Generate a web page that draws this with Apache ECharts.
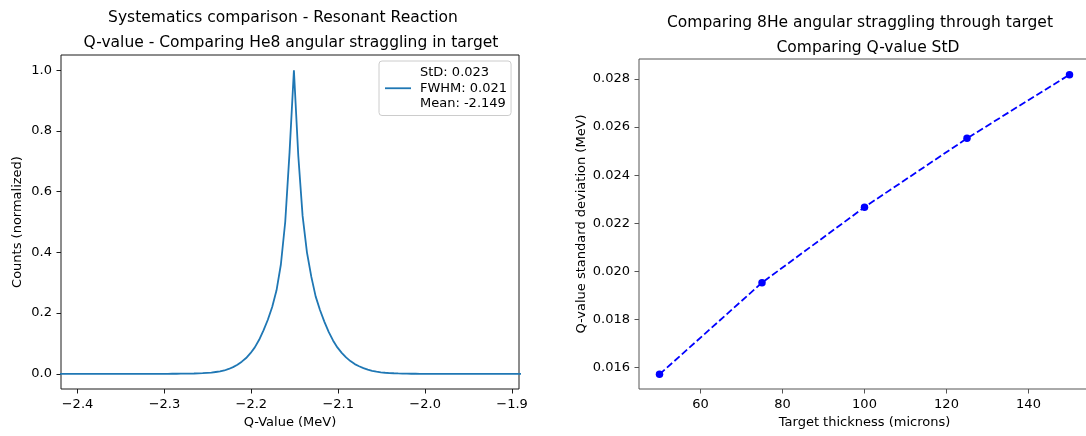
<!DOCTYPE html>
<html>
<head>
<meta charset="utf-8">
<script src="https://cdn.jsdelivr.net/npm/echarts@6/dist/echarts.min.js"></script>
<style>
html,body{margin:0;padding:0;background:#fff;}
#chart{width:1086px;height:436px;}
</style>
</head>
<body>
<div id="chart"></div>
<script>
// ---- Left panel data: Q-value histogram (normalized counts) ----
const qValues = [
 -2.426,-2.421,-2.416,-2.411,-2.406,-2.401,
 -2.396,-2.391,-2.386,-2.381,-2.376,-2.371,-2.366,-2.361,-2.356,-2.351,
 -2.346,-2.341,-2.336,-2.331,-2.326,-2.321,-2.316,-2.311,-2.306,-2.301,
 -2.296,-2.291,-2.286,-2.281,-2.276,-2.271,-2.266,-2.261,-2.256,-2.251,
 -2.246,-2.241,-2.236,-2.231,-2.226,-2.221,-2.216,-2.211,-2.206,-2.201,
 -2.196,-2.191,-2.186,-2.181,-2.176,-2.171,-2.166,-2.161,-2.156,-2.151,
 -2.146,-2.141,-2.136,-2.131,-2.126,-2.121,-2.116,-2.111,-2.106,-2.101,
 -2.096,-2.091,-2.086,-2.081,-2.076,-2.071,-2.066,-2.061,-2.056,-2.051,
 -2.046,-2.041,-2.036,-2.031,-2.026,-2.021,-2.016,-2.011,-2.006,-2.001,
 -1.996,-1.991,-1.986,-1.981,-1.976,-1.971,-1.966,-1.961,-1.956,-1.951,
 -1.946,-1.941,-1.936,-1.931,-1.926,-1.921,-1.916,-1.911,-1.906,-1.901,
 -1.896,-1.891,-1.886
];
const counts = [
 0,0,0,0,0,0,
 0,0,0,0,0,0,0,0,0,0,
 0,0,0,0,0,0,0,0,0,0,
 0.0001,0.0002,0.0003,0.0004,0.0005,0.0008,0.001,0.0015,0.002,0.003,
 0.004,0.006,0.008,0.011,0.016,0.022,0.030,0.040,0.052,0.068,
 0.087,0.112,0.143,0.178,0.22,0.275,0.36,0.50,0.73,1.0,
 0.72,0.52,0.40,0.32,0.255,0.21,0.172,0.138,0.11,0.087,
 0.069,0.054,0.042,0.032,0.025,0.019,0.014,0.010,0.007,0.005,
 0.0035,0.0025,0.0018,0.0012,0.0008,0.0005,0.0003,0.0002,0.0001,0,
 0,0,0,0,0,0,0,0,0,0,
 0,0,0,0,0,0,0,0,0,0,
 0,0,0
];
const leftXTicks = [-2.4,-2.3,-2.2,-2.1,-2.0,-1.9];
const leftYTicks = [0.0,0.2,0.4,0.6,0.8,1.0];
const legendLabel = 'StD: 0.023\nFWHM: 0.021\nMean: -2.149';

// ---- Right panel data: Q-value StD vs target thickness ----
const thickness = [50,75,100,125,150];
const qStd = [0.01572,0.01953,0.02267,0.02553,0.02818];
const rightXTicks = [60,80,100,120,140];
const rightYTicks = [0.016,0.018,0.020,0.022,0.024,0.026,0.028];

const FONT = 'DejaVu Sans';
const TICK_FS = 13;
const TITLE_FONT = '15.5px "DejaVu Sans"';
const minus = s => s.replace('-', '\u2212');

const chart = echarts.init(document.getElementById('chart'), null, {renderer:'canvas'});

function axisCommon(ticks, fmt, color){
  return {
    axisLine:{show:false, onZero:false},
    splitLine:{show:false},
    axisTick:{show:true, length:4.5, customValues:ticks, lineStyle:{color:color, width:1}},
    axisLabel:{customValues:ticks, formatter:fmt, fontSize:TICK_FS, color:'#000', fontFamily:FONT, margin:9},
    nameLocation:'middle',
    nameTextStyle:{fontSize:TICK_FS, color:'#000', fontFamily:FONT}
  };
}

const option = {
  animation:false,
  textStyle:{fontFamily:FONT},
  grid:[
    {left:61, right:567, top:55, bottom:47, show:true, borderColor:'#1a1a1a', borderWidth:1,
     backgroundColor:'transparent', containLabel:false, outerBoundsMode:'none'},
    {left:639, right:-4, top:59, bottom:47, show:true, borderColor:'#555', borderWidth:1,
     backgroundColor:'transparent', containLabel:false, outerBoundsMode:'none'}
  ],
  xAxis:[
    Object.assign(axisCommon(leftXTicks, v => minus(v.toFixed(1)), '#1a1a1a'),
      {type:'value', gridIndex:0, min:-2.419, max:-1.892, name:'Q-Value (MeV)', nameGap:26}),
    Object.assign(axisCommon(rightXTicks, v => String(Math.round(v)), '#555'),
      {type:'value', gridIndex:1, min:45, max:155, name:'Target thickness (microns)', nameGap:26})
  ],
  yAxis:[
    Object.assign(axisCommon(leftYTicks, v => v.toFixed(1), '#1a1a1a'),
      {type:'value', gridIndex:0, min:-0.05, max:1.05, name:'Counts (normalized)', nameGap:37}),
    Object.assign(axisCommon(rightYTicks, v => v.toFixed(3), '#555'),
      {type:'value', gridIndex:1, min:0.01511, max:0.02883, name:'Q-value standard deviation (MeV)', nameGap:51})
  ],
  legend:{
    left:379, top:61, orient:'vertical',
    padding:[4,4,4,6],
    itemWidth:26, itemHeight:1.8, icon:'rect',
    backgroundColor:'rgba(255,255,255,0.8)', borderColor:'#cccccc', borderWidth:1, borderRadius:3,
    textStyle:{fontSize:TICK_FS, color:'#000', fontFamily:FONT, lineHeight:15.5, padding:[0,0,0,4]},
    data:[{name:legendLabel}],
    selectedMode:false
  },
  graphic:[
    {type:'text', x:283, y:18, style:{text:'Systematics comparison - Resonant Reaction', font:TITLE_FONT, fill:'#000', align:'center', verticalAlign:'middle'}},
    {type:'text', x:291, y:42.5, style:{text:'Q-value - Comparing He8 angular straggling in target', font:TITLE_FONT, fill:'#000', align:'center', verticalAlign:'middle'}},
    {type:'text', x:860, y:23, style:{text:'Comparing 8He angular straggling through target', font:TITLE_FONT, fill:'#000', align:'center', verticalAlign:'middle'}},
    {type:'text', x:868, y:48, style:{text:'Comparing Q-value StD', font:TITLE_FONT, fill:'#000', align:'center', verticalAlign:'middle'}}
  ],
  series:[
    {
      name:legendLabel, type:'line', xAxisIndex:0, yAxisIndex:0,
      data: qValues.map((q,i) => [q, counts[i]]),
      showSymbol:false, symbol:'none', clip:true,
      lineStyle:{color:'#1f77b4', width:1.8},
      itemStyle:{color:'#1f77b4'}
    },
    {
      name:'std', type:'line', xAxisIndex:1, yAxisIndex:1,
      data: thickness.map((t,i) => [t, qStd[i]]),
      symbol:'circle', symbolSize:7.5,
      lineStyle:{color:'#0000ff', width:1.8, type:[7,3]},
      itemStyle:{color:'#0000ff'}
    }
  ]
};
chart.setOption(option);
</script>
</body>
</html>
